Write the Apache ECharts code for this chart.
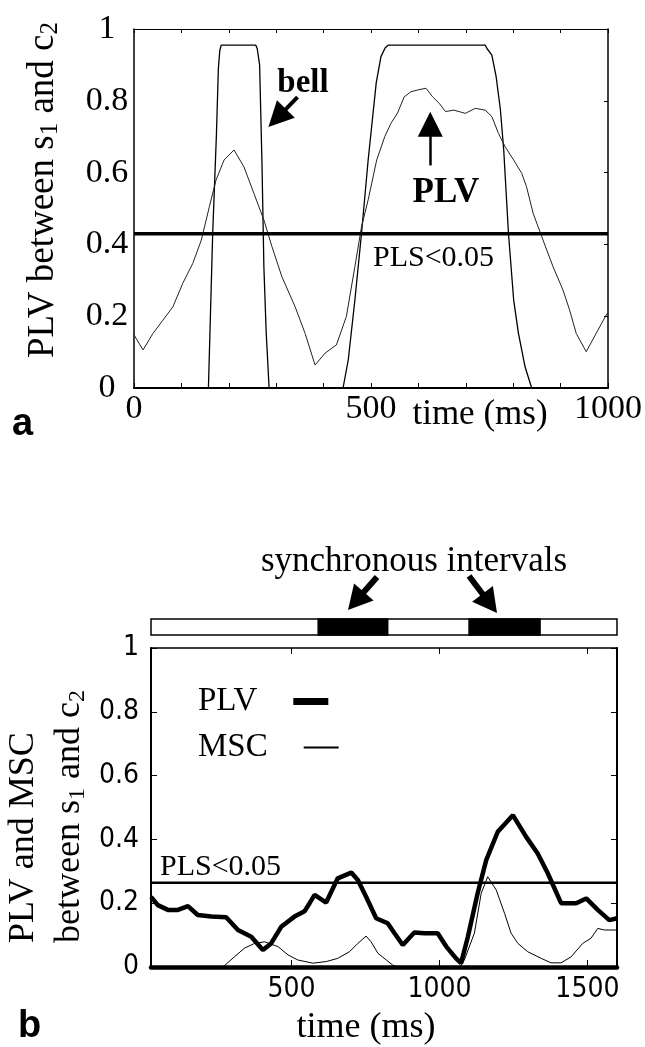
<!DOCTYPE html>
<html><head><meta charset="utf-8">
<script src="https://cdn.jsdelivr.net/npm/echarts@6/dist/echarts.min.js"></script>
<style>html,body{margin:0;padding:0;background:#fff}#c{width:645px;height:1047px}</style>
</head><body><div id="c"></div>
<script>
// ---------- Panel a data ----------
const bellT = [0,157,166,174,178,181,184,257,260,265,270,274,279,285,441,452,466,480,494,511,521,530,536,741,745,755,764,773,780,790,801,811,825,839,1000];
const bellV = [0,0,0.43,0.71,0.89,0.94,0.955,0.955,0.945,0.90,0.626,0.338,0.152,0,0,0.078,0.245,0.431,0.635,0.85,0.923,0.948,0.955,0.955,0.945,0.927,0.867,0.775,0.663,0.431,0.245,0.153,0.059,0,0];
const plvAT = [0,19,40,61,82,103,124,142,159,173,190,211,232,253,274,291,312,340,361,382,403,427,448,466,480,494,512,529,542,556,570,584,598,616,630,644,657,675,699,720,741,755,769,783,801,818,828,842,863,884,905,919,933,954,975,996,1000];
const plvAV = [0.148,0.106,0.152,0.189,0.226,0.292,0.347,0.412,0.505,0.579,0.635,0.663,0.616,0.542,0.468,0.394,0.31,0.226,0.152,0.064,0.097,0.12,0.199,0.338,0.449,0.524,0.635,0.70,0.737,0.766,0.811,0.825,0.83,0.835,0.811,0.793,0.77,0.774,0.765,0.779,0.774,0.756,0.709,0.672,0.635,0.598,0.561,0.487,0.412,0.338,0.273,0.217,0.152,0.101,0.152,0.203,0.21];
const plsA = 0.43;
const xTicksA = [0,500,1000];
const yTicks = [0,0.2,0.4,0.6,0.8,1];

// ---------- Panel b data ----------
const plvBT = [25,48,82,116,150,183,229,279,319,364,403,431,465,510,544,561,578,617,656,702,724,752,786,825,848,876,915,949,994,1023,1056,1073,1096,1129,1158,1197,1248,1293,1332,1366,1411,1462,1496,1535,1574,1600];
const plvBV = [0.22,0.194,0.179,0.179,0.191,0.163,0.158,0.156,0.116,0.095,0.053,0.074,0.126,0.158,0.175,0.2,0.226,0.202,0.278,0.296,0.273,0.22,0.153,0.137,0.106,0.069,0.108,0.106,0.106,0.064,0.027,0.012,0.095,0.231,0.335,0.424,0.476,0.408,0.356,0.294,0.2,0.2,0.215,0.179,0.147,0.153];
const mscT = [25,268,307,341,375,409,454,488,521,572,617,656,696,724,752,769,792,820,842,860,1070,1084,1118,1141,1163,1192,1220,1242,1265,1298,1344,1377,1411,1445,1484,1512,1535,1557,1600];
const mscV = [0,0,0.032,0.059,0.074,0.079,0.064,0.038,0.022,0.012,0.017,0.027,0.048,0.074,0.097,0.079,0.043,0.022,0.006,0,0,0.022,0.106,0.231,0.283,0.241,0.168,0.106,0.074,0.048,0.027,0.013,0.013,0.032,0.074,0.09,0.121,0.116,0.116];
const plsB = 0.264;
const xTicksB = [500,1000,1500];
const syncStart = [590,1100];
const syncEnd = [825,1340];
const timeMinB = 25, timeMaxB = 1600;

const zip = (a,b) => a.map((v,i)=>[v,b[i]]);
const SERIF = "'Liberation Serif','Times New Roman',serif";
const SANS = "'Liberation Sans',Arial,sans-serif";
const NARROW = "'Liberation Sans Narrow','DejaVu Sans Condensed','Liberation Sans',Arial,sans-serif";
const BLK = '#000';
const plain = v => String(v);

function arrow(x1,y1,x2,y2,L,W,sw){
  const dx=x2-x1, dy=y2-y1, len=Math.hypot(dx,dy), ux=dx/len, uy=dy/len, nx=-uy, ny=ux;
  const bx=x2-ux*L, by=y2-uy*L;
  return [
    {type:'line', shape:{x1:x1,y1:y1,x2:bx+ux*2,y2:by+uy*2}, style:{stroke:BLK,lineWidth:sw}},
    {type:'polygon', shape:{points:[[x2,y2],[bx+nx*W/2,by+ny*W/2],[bx-nx*W/2,by-ny*W/2]]}, style:{fill:BLK}}
  ];
}

const chart = echarts.init(document.getElementById('c'), null, {renderer:'canvas'});
const hiddenLbl = {show:false};
const legendText = {fontFamily:SERIF, fontSize:33, color:BLK, padding:[0,31,0,0]};
const option = {
  animation:false,
  backgroundColor:'#fff',
  grid:[
    {left:134, top:29, width:478, height:359},
    {left:151, top:648, width:466, height:319},
    {left:151, top:619, width:466, height:16}
  ],
  legend:[
    {data:['PLV'], left:193, top:680, align:'right', icon:'rect', itemWidth:35, itemHeight:7, selectedMode:false, textStyle:legendText},
    {data:['MSC'], left:193, top:726, align:'right', icon:'rect', itemWidth:35, itemHeight:2, selectedMode:false, textStyle:legendText}
  ],
  xAxis:[
    {gridIndex:0, type:'value', min:0, max:1000, interval:100, position:'bottom',
     axisLine:{onZero:false, lineStyle:{color:BLK,width:2}},
     axisTick:{inside:true, length:5, lineStyle:{color:BLK}},
     splitLine:{show:false},
     axisLabel:{customValues:xTicksA, formatter:plain, fontFamily:SERIF, fontSize:34, color:BLK, margin:4}},
    {gridIndex:0, type:'value', min:0, max:1000, interval:100, position:'top',
     axisLine:{onZero:false, lineStyle:{color:BLK,width:1.2}},
     axisTick:{inside:true, length:4, lineStyle:{color:BLK}}, splitLine:{show:false}, axisLabel:hiddenLbl},
    {gridIndex:1, type:'value', min:timeMinB, max:timeMaxB, position:'bottom',
     axisLine:{onZero:false, lineStyle:{color:BLK,width:4.5}},
     axisTick:{inside:true, length:7, customValues:xTicksB, lineStyle:{color:BLK}},
     splitLine:{show:false},
     axisLabel:{customValues:xTicksB, formatter:plain, fontFamily:NARROW, fontSize:28, color:BLK, margin:9}},
    {gridIndex:1, type:'value', min:timeMinB, max:timeMaxB, position:'top',
     axisLine:{onZero:false, lineStyle:{color:BLK,width:1.5}},
     axisTick:{inside:true, length:6, customValues:xTicksB, lineStyle:{color:BLK}}, splitLine:{show:false}, axisLabel:hiddenLbl},
    {gridIndex:2, type:'value', min:timeMinB, max:timeMaxB, show:false}
  ],
  yAxis:[
    {gridIndex:0, type:'value', min:0, max:1, interval:0.2, position:'left',
     axisLine:{show:true, onZero:false, lineStyle:{color:BLK,width:1.5}},
     axisTick:{show:false}, splitLine:{show:false},
     axisLabel:{customValues:yTicks, fontFamily:SERIF, fontSize:34, color:BLK, margin:27, align:'center'}},
    {gridIndex:0, type:'value', min:0, max:1, interval:0.2, position:'right',
     axisLine:{show:true, onZero:false, lineStyle:{color:BLK,width:1.5}},
     axisTick:{show:true, inside:true, length:4, lineStyle:{color:BLK}}, splitLine:{show:false}, axisLabel:hiddenLbl},
    {gridIndex:1, type:'value', min:0, max:1, interval:0.2, position:'left',
     axisLine:{show:true, onZero:false, lineStyle:{color:BLK,width:2}},
     axisTick:{show:true, inside:true, length:6, lineStyle:{color:BLK}}, splitLine:{show:false},
     axisLabel:{customValues:yTicks, fontFamily:NARROW, fontSize:28, color:BLK, margin:12}},
    {gridIndex:1, type:'value', min:0, max:1, interval:0.2, position:'right',
     axisLine:{show:true, onZero:false, lineStyle:{color:BLK,width:2}},
     axisTick:{show:true, inside:true, length:6, lineStyle:{color:BLK}}, splitLine:{show:false}, axisLabel:hiddenLbl},
    {gridIndex:2, type:'value', min:0, max:1, show:false}
  ],
  series:[
    {name:'bell', type:'line', xAxisIndex:0, yAxisIndex:0, data:zip(bellT,bellV), showSymbol:false, silent:true,
     lineStyle:{color:BLK,width:1.3}, itemStyle:{color:BLK}, z:3},
    {name:'PLV a', type:'line', xAxisIndex:0, yAxisIndex:0, data:zip(plvAT,plvAV), showSymbol:false, silent:true,
     lineStyle:{color:'#222',width:1}, itemStyle:{color:'#222'}, z:3},
    {name:'PLS a', type:'line', xAxisIndex:0, yAxisIndex:0, data:[[0,plsA],[1000,plsA]], showSymbol:false, silent:true,
     lineStyle:{color:BLK,width:3.5}, itemStyle:{color:BLK}, z:4,
     markLine:{silent:true, symbol:['none','triangle'], symbolSize:25, label:{show:false},
       itemStyle:{color:BLK}, lineStyle:{color:BLK, type:'solid'},
       data:[
         [{coord:[345,0.81], lineStyle:{width:4}},{coord:[302,0.752]}],
         [{coord:[625,0.62], lineStyle:{width:2.5}},{coord:[625,0.735]}]
       ]}},
    {name:'PLV', type:'line', xAxisIndex:2, yAxisIndex:2, data:zip(plvBT,plvBV), showSymbol:false, silent:true,
     lineStyle:{color:BLK,width:4.5}, itemStyle:{color:BLK}, z:4},
    {name:'MSC', type:'line', xAxisIndex:2, yAxisIndex:2, data:zip(mscT,mscV), showSymbol:false, silent:true,
     lineStyle:{color:BLK,width:1}, itemStyle:{color:BLK}, z:3},
    {name:'PLS b', type:'line', xAxisIndex:2, yAxisIndex:2, data:[[timeMinB,plsB],[timeMaxB,plsB]], showSymbol:false, silent:true,
     lineStyle:{color:BLK,width:2.5}, itemStyle:{color:BLK}, z:3},
    {name:'sync', type:'custom', xAxisIndex:4, yAxisIndex:4, silent:true,
     data:[[timeMinB,timeMaxB,0]].concat(syncStart.map((s,i)=>[s,syncEnd[i],1])),
     renderItem:function(params, api){
       const p0 = api.coord([api.value(0),1]);
       const p1 = api.coord([api.value(1),0]);
       const black = api.value(2)===1;
       return {type:'rect', shape:{x:p0[0], y:p0[1], width:p1[0]-p0[0], height:p1[1]-p0[1]},
               style:{fill:black?BLK:'#fff', stroke:BLK, lineWidth:1.5}};
     }}
  ],
  graphic:[
    // panel a texts
    {type:'text', x:43, y:190, rotation:Math.PI/2,
     style:{text:'{m|PLV between s}{s|1}{m| and c}{s|2}', align:'center', verticalAlign:'middle', fill:BLK,
       rich:{m:{fontFamily:SERIF, fontSize:37, lineHeight:40}, s:{fontFamily:SERIF, fontSize:25, verticalAlign:'bottom', lineHeight:14}}}},
    {type:'text', x:303, y:83, style:{text:'bell', font:'bold 33px '+SERIF, fill:BLK, align:'center', verticalAlign:'middle'}},
    {type:'text', x:446, y:193, style:{text:'PLV', font:'bold 35px '+SERIF, fill:BLK, align:'center', verticalAlign:'middle'}},
    {type:'text', x:373, y:258, style:{text:'PLS<0.05', font:'30px '+SERIF, fill:BLK, align:'left', verticalAlign:'middle'}},
    {type:'text', x:480, y:415, style:{text:'time (ms)', font:'35px '+SERIF, fill:BLK, align:'center', verticalAlign:'middle'}},
    {type:'text', x:12, y:425, style:{text:'a', font:'bold 38px '+SANS, fill:BLK, align:'left', verticalAlign:'middle'}},
    // panel b texts
    {type:'text', x:414, y:562, style:{text:'synchronous intervals', font:'35px '+SERIF, fill:BLK, align:'center', verticalAlign:'middle'}},
    {type:'text', x:160, y:867, style:{text:'PLS<0.05', font:'30px '+SERIF, fill:BLK, align:'left', verticalAlign:'middle'}},
    {type:'text', x:366, y:1028, style:{text:'time (ms)', font:'36px '+SERIF, fill:BLK, align:'center', verticalAlign:'middle'}},
    {type:'text', x:18, y:1027, style:{text:'b', font:'bold 38px '+SANS, fill:BLK, align:'left', verticalAlign:'middle'}},
    {type:'text', x:24, y:943, rotation:Math.PI/2,
     style:{text:'PLV and MSC', font:'36px '+SERIF, fill:BLK, align:'left', verticalAlign:'middle'}},
    {type:'text', x:70, y:943, rotation:Math.PI/2,
     style:{text:'{m|between s}{s|1}{m| and c}{s|2}', align:'left', verticalAlign:'middle', fill:BLK,
       rich:{m:{fontFamily:SERIF, fontSize:36, lineHeight:40}, s:{fontFamily:SERIF, fontSize:24, verticalAlign:'bottom', lineHeight:14}}}}
  ].concat(arrow(377,577,348,610,24,26,6)).concat(arrow(469,576,497,613,24,26,6))
};
chart.setOption(option);
</script>
</body></html>
